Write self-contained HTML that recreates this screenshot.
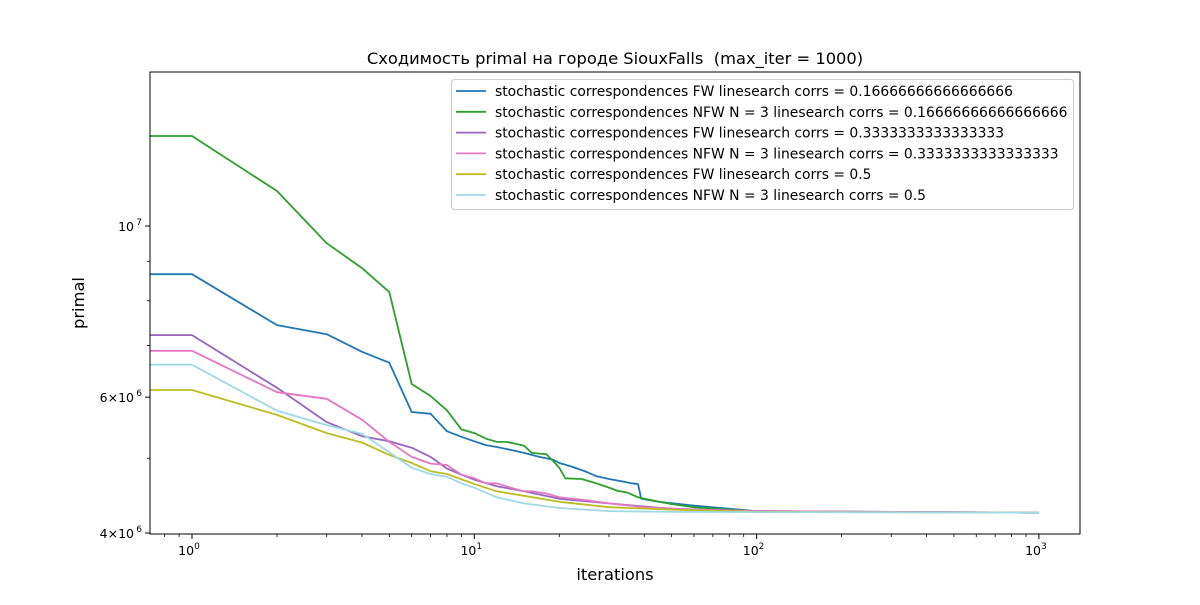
<!DOCTYPE html>
<html><head><meta charset="utf-8"><style>
body{margin:0;background:#fff;}
svg{font-family:"DejaVu Sans","Liberation Sans",sans-serif;}
</style></head><body>
<svg id="chart" width="1200" height="600">
<defs><clipPath id="pc"><rect x="150" y="72" width="930" height="462"/></clipPath></defs>
<rect width="1200" height="600" fill="#fff"/>
<text x="615" y="64" text-anchor="middle" font-size="16.3" style="white-space:pre">Сходимость primal на городе SiouxFalls  (max_iter = 1000)</text>
<g id="lines" clip-path="url(#pc)"></g>
<rect x="150" y="72" width="930" height="462" fill="none" stroke="#000" stroke-width="1"/>
<g id="ticks"></g>
<text x="615" y="580" text-anchor="middle" font-size="16.3">iterations</text>
<text x="84" y="303" text-anchor="middle" font-size="16.3" transform="rotate(-90 84 303)">primal</text>
<g id="legend"></g>
</svg>
<script>
const seriesNames=["stochastic correspondences FW linesearch corrs = 0.16666666666666666","stochastic correspondences NFW N = 3 linesearch corrs = 0.16666666666666666","stochastic correspondences FW linesearch corrs = 0.3333333333333333","stochastic correspondences NFW N = 3 linesearch corrs = 0.3333333333333333","stochastic correspondences FW linesearch corrs = 0.5","stochastic correspondences NFW N = 3 linesearch corrs = 0.5"];
const colors=["#1f77b4","#2ca02c","#9467bd","#e377c2","#bcbd22","#9edae5"];
const blueIt=[0,1,2,3,4,5,6,7,8,9,10,11,12,13,15,17,19,20,22,25,27,30,33,36,38,39,45,60,100,1000];
const blueVal=[8.66,8.66,7.44,7.24,6.87,6.65,5.74,5.71,5.42,5.33,5.26,5.20,5.17,5.14,5.08,5.02,4.98,4.93,4.88,4.80,4.74,4.70,4.67,4.64,4.63,4.43,4.39,4.34,4.27,4.25];
const greenIt=[0,1,2,3,4,5,6,7,8,9,10,11,12,13,14,15,16,17,18,19,20,21,24,27,30,32,35,38,40,50,60,80,100,200,1000];
const greenVal=[13.08,13.08,11.10,9.50,8.82,8.21,6.24,6.02,5.77,5.45,5.39,5.30,5.25,5.25,5.22,5.19,5.08,5.07,5.06,4.96,4.86,4.71,4.70,4.64,4.58,4.54,4.51,4.45,4.43,4.36,4.32,4.29,4.27,4.26,4.25];
const purpleIt=[0,1,2,3,4,5,6,7,8,9,10,12,15,20,30,50,100,1000];
const purpleVal=[7.22,7.22,6.17,5.57,5.34,5.26,5.16,5.02,4.85,4.76,4.69,4.60,4.53,4.43,4.37,4.30,4.27,4.25];
const pinkIt=[0,1,2,3,4,5,6,7,8,9,10,11,12,14,15,16,18,20,25,30,40,60,100,1000];
const pinkVal=[6.89,6.89,6.09,5.97,5.61,5.25,5.02,4.92,4.90,4.76,4.71,4.64,4.64,4.56,4.53,4.53,4.50,4.45,4.41,4.37,4.32,4.29,4.27,4.25];
const oliveIt=[0,1,2,3,4,5,6,7,8,10,12,15,20,30,50,100,1000];
const oliveVal=[6.13,6.13,5.69,5.39,5.24,5.05,4.93,4.81,4.77,4.63,4.53,4.47,4.39,4.32,4.29,4.26,4.25];
const lightIt=[0,1,2,3,4,5,6,7,8,9,10,12,15,20,30,50,1000];
const lightVal=[6.61,6.61,5.76,5.52,5.38,5.09,4.86,4.77,4.73,4.64,4.58,4.45,4.37,4.31,4.27,4.26,4.25];
const yMajor=[4,6,10];
const yMajorLabels=["4×10","6×10","10"];
const yMajorExp=["6","6","7"];
const yMinor=[5,7,8,9];
const xMajor=[1,10,100,1000];
const xMajorExp=["0","1","2","3"];

const NS="http://www.w3.org/2000/svg";
function xS(v){const t=v<=0?0.1:v;return 192+282.3*Math.log10(t);}
function yS(v){return 226-771.5*Math.log10(v/10);}
function mk(tag,attrs,parent){const e=document.createElementNS(NS,tag);for(const k in attrs)e.setAttribute(k,attrs[k]);parent.appendChild(e);return e;}
const ticks=document.getElementById('ticks');
xMajor.forEach((v,i)=>{const x=xS(v);
 const t=mk('line',{x1:x,x2:x,y1:534,y2:539,stroke:'#000'},ticks);
 
 
 const tx=mk('text',{x:x-3,y:555,'text-anchor':'middle','font-size':12.5},ticks);
 
 
 tx.textContent='10';
 const sp=mk('tspan',{dy:-6,'font-size':9},tx);sp.textContent=xMajorExp[i];
});
for(let d=-1;d<=3;d++){for(let m=2;m<=9;m++){const v=m*Math.pow(10,d);const x=xS(v);if(x<150||x>1080)continue;
 const t=mk('line',{x1:x,x2:x,y1:534,y2:537,stroke:'#000','stroke-width':0.8},ticks);
 
 }}
yMajor.forEach((v,i)=>{const y=yS(v);
 const t=mk('line',{x1:145,x2:150,y1:y,y2:y,stroke:'#000'},ticks);
 
 
 const tx=mk('text',{x:134,y:y+5,'text-anchor':'end','font-size':12.5},ticks);
 
 
 tx.textContent=yMajorLabels[i];
 const sp=mk('tspan',{x:142,dy:-6,'font-size':9,'text-anchor':'end'},tx);sp.textContent=yMajorExp[i];
});
yMinor.forEach(v=>{const y=yS(v);
 const t=mk('line',{x1:147,x2:150,y1:y,y2:y,stroke:'#000','stroke-width':0.8},ticks);
 
 });
const lines=document.getElementById('lines');
const data=[[blueIt,blueVal],[greenIt,greenVal],[purpleIt,purpleVal],[pinkIt,pinkVal],[oliveIt,oliveVal],[lightIt,lightVal]];
[0,1,2,3,4,5].forEach(i=>{const [it,val]=data[i];
 const pts=it.map((x,j)=>xS(x).toFixed(1)+','+yS(val[j]).toFixed(1)).join(' ');
 const p=mk('polyline',{points:pts,fill:'none',stroke:colors[i],'stroke-width':1.8,'stroke-linejoin':'round'},lines);
 
 
});
const lg=document.getElementById('legend');
const box=mk('rect',{x:451.5,y:79.5,width:622,height:130,rx:3,fill:'#fff','fill-opacity':0.8,stroke:'#ccc'},lg);


seriesNames.forEach((n,i)=>{const y=91+20.8*i;
 const l=mk('line',{x1:456,x2:486,y1:y,y2:y,stroke:colors[i],'stroke-width':1.8},lg);
 
 
 const t=mk('text',{x:495,y:y+5,'font-size':13.9},lg);
 
 
 t.textContent=n;});
</script>
</body></html>
